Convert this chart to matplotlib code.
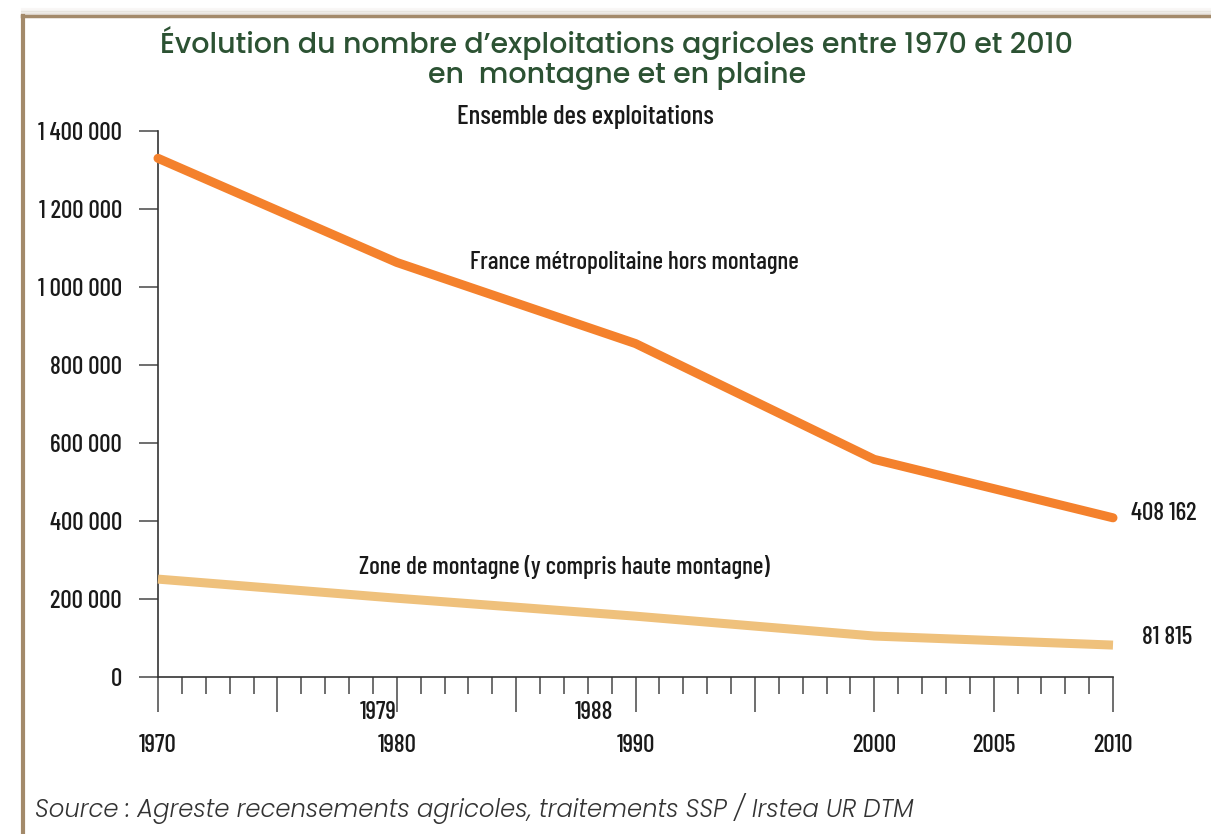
import matplotlib.pyplot as plt
from matplotlib.lines import Line2D
from matplotlib.ticker import MultipleLocator, FixedLocator

# census points, placed as drawn on the reference (1979/1988 sit on 1980/1990)
years = [1970, 1980, 1990, 2000, 2010]
hors_montagne = [1330000, 1063000, 855000, 558000, 408162]
montagne = [251000, 202000, 156000, 105000, 81815]

y_ticks = [0, 200000, 400000, 600000, 800000, 1000000, 1200000, 1400000]
y_ticklabels = ["0", "200 000", "400 000", "600 000", "800 000",
                "1 000 000", "1 200 000", "1 400 000"]
x_major = [1970, 1975, 1980, 1985, 1990, 1995, 2000, 2005, 2010]
x_labels = ["1970", "", "1980", "", "1990", "", "2000", "2005", "2010"]
census_extra = ["1979", "1988"]

NARROW = ["Barlow Condensed", "DejaVu Sans"]
TITLE_FONT = ["Poppins", "Open Sans", "DejaVu Sans"]
ORANGE = "#f4812c"
SAND = "#efc17c"
TEXT = "#1a1a1a"
GREEN = "#2c5233"
lab = dict(family=NARROW, fontsize=18, weight=500, color=TEXT)

fig = plt.figure(figsize=(12.11, 8.34), dpi=100)
ax = fig.add_axes([158 / 1211, 1 - 677 / 834, (1113 - 158) / 1211, (677 - 131) / 834])

ax.plot(years, hors_montagne, color=ORANGE, lw=6.5, solid_capstyle="round",
        solid_joinstyle="round", clip_on=False, zorder=3)
ax.plot(years, montagne, color=SAND, lw=6.5, solid_capstyle="butt",
        solid_joinstyle="round", clip_on=False, zorder=3)

ax.set_xlim(1970, 2010)
ax.set_ylim(0, 1400000)

for s in ["top", "right"]:
    ax.spines[s].set_visible(False)
for s in ["left", "bottom"]:
    ax.spines[s].set_color("#333333")
    ax.spines[s].set_linewidth(1.2)

ax.set_yticks(y_ticks)
ax.set_yticklabels(y_ticklabels, **lab)
ax.tick_params(axis="y", direction="out", length=14, width=1.2, color="#555555", pad=12)

ax.xaxis.set_major_locator(FixedLocator(x_major))
ax.xaxis.set_minor_locator(MultipleLocator(1))
ax.set_xticklabels(x_labels, **lab)
ax.tick_params(axis="x", which="major", direction="out", length=25, width=1.2,
               color="#555555", pad=16)
ax.tick_params(axis="x", which="minor", direction="out", length=12, width=1.2,
               color="#555555")

# 1979 and 1988 labels on their own row
ax.text(1979.2, -90000, census_extra[0], ha="center", va="center", **lab)
ax.text(1988.25, -90000, census_extra[1], ha="center", va="center", **lab)

ax.text(1987.9, 1436000, "Ensemble des exploitations", ha="center", va="center",
        **dict(lab, fontsize=19.5))
ax.text(1983.05, 1064000, "France métropolitaine hors montagne", ha="left",
        va="center", **lab)
ax.text(1978.4, 282000, "Zone de montagne (y compris haute montagne)", ha="left",
        va="center", **lab)
ax.text(2010.75, 418000, "408 162", ha="left", va="center", clip_on=False, **lab)
ax.text(2011.2, 100000, "81 815", ha="left", va="center", clip_on=False, **lab)

fig.text(617 / 1211, 1 - 43 / 834, "Évolution du nombre d’exploitations agricoles entre 1970 et 2010",
         family=TITLE_FONT, fontsize=20.5, weight=500, color=GREEN, ha="center", va="center")
fig.text(617 / 1211, 1 - 75 / 834, "en  montagne et en plaine",
         family=TITLE_FONT, fontsize=20.5, weight=500, color=GREEN, ha="center", va="center")

fig.text(35 / 1211, 1 - 808 / 834,
         "Source : Agreste recensements agricoles, traitements SSP / Irstea UR DTM",
         family=TITLE_FONT, style="italic", weight=300, fontsize=17.5, color="#333333",
         ha="left", va="center")

# card frame: soft shadow then brown top and left edges
for i, a in enumerate([0.05, 0.08, 0.12, 0.18]):
    off = (4 - i) * 1.5
    fig.add_artist(Line2D([22 / 1211, 1], [1 - (15 - off) / 834] * 2,
                          transform=fig.transFigure, color="#8a7355", lw=1.5, alpha=a))
fig.add_artist(Line2D([22 / 1211, 1], [1 - 16 / 834] * 2, transform=fig.transFigure,
                      color="#a38a6a", lw=2.5))
fig.add_artist(Line2D([23 / 1211] * 2, [0, 1 - 16 / 834], transform=fig.transFigure,
                      color="#a38a6a", lw=3))

fig.savefig("out.png", dpi=100)
